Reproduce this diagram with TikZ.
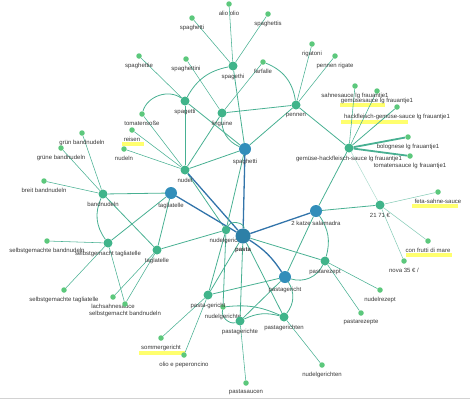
\documentclass[tikz,border=0pt]{standalone}
\usepackage{fontspec}
\setmainfont{Liberation Sans}
\usetikzlibrary{backgrounds}
\definecolor{hub}{RGB}{50,142,186}
\definecolor{mid}{RGB}{64,180,138}
\definecolor{leaf}{RGB}{92,200,124}
\definecolor{link}{RGB}{72,176,146}
\definecolor{hublink}{RGB}{50,116,170}
\definecolor{txt}{RGB}{55,55,55}
\definecolor{marker}{RGB}{255,255,110}

\begin{document}
\begin{tikzpicture}[x=1pt,y=-1pt,
  every label/.style={font=\fontsize{6}{7}\selectfont,text=txt,inner sep=1pt},
  label distance=2.6pt,
  big/.style={circle,fill=hub,inner sep=0pt,minimum size=12pt},
  med/.style={circle,fill=mid,inner sep=0pt,minimum size=9pt},
  sml/.style={circle,fill=leaf,inner sep=0pt,minimum size=5.5pt},
  ln/.style={link,line width=0.8pt},
  thn/.style={link,line width=0.55pt},
  hb/.style={hublink,line width=1.3pt}]
\useasboundingbox (0,0) rectangle (470,400);
\draw[gray!35,line width=1.5pt] (0,398.5)--(470,398.5);
% small ones
\node[sml,label=below:alio olio] (aliolio) at (229,4) {};
\node[sml,label=below:spaghetti] (spaghettit) at (192,18) {};
\node[sml,label=below:spaghettis] (spaghettis) at (268,14) {};
\node[sml,label=below:spaghettie] (spaghettie) at (139,56) {};
\node[sml,label=below:spaghettini] (spaghettini) at (186,59) {};
\node[sml,label=below:farfalle] (farfalle) at (263,62) {};
\node[sml,label=below:rigatoni] (rigatoni) at (312,44) {};
\node[sml,label=below:pennen rigate] (rigate) at (335,56) {};
\node[sml,label=below:tomatensoße] (tomsosse) at (142,114) {};
\node[sml,label=below:reisen] (reisen) at (132,130) {};
\node[sml,label=below:nudeln] (nudeln) at (124,149) {};
\node[sml,label=below:grün bandnudeln] (gruenbn) at (82,133) {};
\node[sml,label=below:grüne bandnudeln] (gruenebn) at (61,148) {};
\node[sml,label=below:breit bandnudeln] (breitbn) at (44,181) {};
\node[sml,label=below:selbstgemachte bandnudeln] (sgebn) at (47,241) {};
\node[sml,label=below:selbstgemachte tagliatelle] (sgetag) at (64,290) {};
\node[sml,label=below:lachsahnesauce] (lachs) at (113,297) {};
\node[sml,label=below:selbstgemacht bandnudeln] (sgbn) at (125,304) {};
\node[sml,label=below:sommergericht] (sommer) at (161,338) {};
\node[sml,label=below:olio e peperoncino] (olio) at (184,355) {};
\node[sml,label=below:pastasaucen] (saucen) at (246,383) {};
\node[sml,label=below:nudelgerichten] (ngerichten) at (322,365) {};
\node[sml,label=below:pastarezepte] (rezepte) at (361,313) {};
\node[sml,label=below:nudelrezept] (nrezept) at (380,290) {};
\node[sml,label=below:nova 35 € /] (nova) at (404,261) {};
\node[sml,label=below:con frutti di mare] (frutti) at (428,241) {};
\node[sml,label=below:feta-sahne-sauce] (feta) at (438,192) {};
\node[sml,label=below:tomatensauce lg frauantje1] (tomsauce) at (410,156) {};
\node[sml,label=below:bolognese lg frauantje1] (bolo) at (408,137) {};
\node[sml,label=below:hackfleisch-gemüse-sauce lg frauantje1] (hackgem) at (397,107) {};
\node[sml,label=below:gemüsesauce lg frauantje1] (gemsauce) at (377,91) {};
\node[sml,label=below:sahnesauce lg frauantje1] (sahne) at (355,86) {};
\node[sml,minimum size=5.5pt,label=below:nudelgerichte] (ngerichte) at (223,307) {};
% middle ones
\node[med,label=below:spagethi] (spagethi) at (233,66) {};
\node[med,label=below:spagetti] (spagetti) at (185,101) {};
\node[med,label=below:linguine] (linguine) at (222,113) {};
\node[med,label=below:pennen] (pennen) at (296,105) {};
\node[med,label=below:gemüse-hackfleisch-sauce lg frauantje1] (gemhack) at (349,148) {};
\node[med,label=below:nudel] (nudel) at (185,170) {};
\node[med,label=below:bandnudeln] (bandnudeln) at (103,194) {};
\node[med,label=below:selbstgemacht tagliatelle] (sgtag) at (108,243) {};
\node[med,label=below:taglatelle] (taglatelle) at (157,250) {};
\node[med,minimum size=8.5pt,label=below:nudelgericht] (ngericht) at (226,230) {};
\node[med,label=below:21 71 €] (euro) at (380,205) {};
\node[med,label=below:pastarezept] (rezept) at (325,261) {};
\node[med,label=below:pasta-gericht] (pgericht) at (208,295) {};
\node[med,label=below:pastagerichte] (gerichte) at (240,321) {};
\node[med,label=below:pastagerichten] (gerichten) at (284,317) {};
% big ones
\node[big,label=below:spaghetti] (spaghetti) at (245,149) {};
\node[big,label=below:tagliatelle] (tagliatelle) at (171,193) {};
\node[big,label=below:2 katze salamadra] (katze) at (316,211) {};
\node[big,label=below:pastagericht] (gericht) at (285,277) {};
\node[big,fill=hub!90!black,minimum size=15pt,
  label={[font=\fontsize{6}{7}\selectfont\bfseries]below:pasta}] (pasta) at (243,236) {};
\begin{scope}[on background layer]
\fill[marker] (340,103)--(385,103)--(385,107)--(340,107)--cycle;
\fill[marker] (341,119.5)--(408,119.5)--(408,124)--(341,124)--cycle;
\fill[marker] (122,142)--(144,142)--(144,146)--(122,146)--cycle;
\fill[marker] (412,203.5)--(458,203.5)--(458,208)--(412,208)--cycle;
\fill[marker] (406,252.5)--(452,252.5)--(452,257)--(406,257)--cycle;
\fill[marker] (139,351)--(185,351)--(185,355)--(139,355)--cycle;
\draw[thn] (spagethi)--(aliolio); \draw[thn] (spagethi)--(spaghettit);
\draw[thn] (spagethi)--(spaghettis); \draw[ln] (spagethi)--(spaghetti);
\draw[ln] (spagetti) to[bend left=25] (spagethi);
\draw[thn] (spagetti)--(spaghettie); \draw[ln] (spagetti) to[bend right=55] (tomsosse);
\draw[ln] (spagetti)--(nudel); \draw[ln] (spagetti)--(spaghetti);
\draw[thn] (linguine)--(spaghettini); \draw[thn] (linguine)--(farfalle);
\draw[ln] (linguine)--(pennen); \draw[ln] (linguine)--(nudel);
\draw[ln] (linguine) to[bend right=35] (spaghetti);
\draw[ln] (farfalle) to[bend left=30] (pennen);
\draw[thn] (pennen)--(rigatoni); \draw[thn] (pennen)--(rigate);
\draw[ln] (pennen)--(spaghetti); \draw[ln] (pennen)--(gemhack);
\draw[thn] (gemhack)--(sahne); \draw[thn] (gemhack)--(gemsauce);
\draw[ln] (gemhack)--(hackgem);
\draw[link,line width=1.8pt] (gemhack)--(bolo); \draw[link,line width=1.8pt] (gemhack)--(tomsauce);
\draw[link!45,line width=0.5pt] (gemhack)--(euro); \draw[ln] (gemhack)--(katze);
\draw[thn] (nudel)--(tomsosse); \draw[thn] (nudel)--(reisen);
\draw[thn] (nudel)--(nudeln); \draw[ln] (nudel)--(spaghetti);
\draw[ln] (nudel)--(ngericht); \draw[hb] (nudel)--(pasta);
\draw[thn] (bandnudeln)--(gruenbn); \draw[thn] (bandnudeln)--(gruenebn);
\draw[thn] (bandnudeln)--(breitbn); \draw[ln] (bandnudeln)--(tagliatelle);
\draw[ln] (bandnudeln)--(taglatelle); \draw[ln] (bandnudeln) to[bend right=30] (sgtag);
\draw[ln] (tagliatelle)--(sgtag); \draw[ln] (tagliatelle)--(taglatelle);
\draw[hb] (tagliatelle)--(pasta);
\draw[thn] (sgtag)--(sgebn); \draw[thn] (sgtag)--(sgetag);
\draw[thn] (sgtag)--(sgbn);
\draw[thn] (taglatelle)--(lachs); \draw[thn] (taglatelle)--(sgbn);
\draw[ln] (taglatelle)--(ngericht);
\draw[hb] (spaghetti)--(pasta); \draw[ln] (spaghetti)--(ngericht);
\draw[ln] (ngericht) to[bend left=80] (pasta);
\draw[ln] (ngericht)--(pgericht); \draw[ln] (ngericht)--(ngerichte);
\draw[hb] (pasta)--(katze); \draw[hb] (pasta) to[bend left=12] (gericht);
\draw[ln] (pasta)--(rezept); \draw[ln] (pasta)--(pgericht);
\draw[ln] (pasta)--(gerichte); \draw[ln] (pasta)--(gerichten);
\draw[ln] (katze)--(euro); \draw[ln] (katze)--(gericht);
\draw[ln] (katze) to[bend left=25] (rezept);
\draw[link!70,line width=0.5pt] (euro)--(feta); \draw[link!70,line width=0.5pt] (euro)--(frutti);
\draw[link!70,line width=0.5pt] (euro)--(nova);
\draw[thn] (rezept)--(nrezept); \draw[thn] (rezept)--(rezepte);
\draw[ln] (gericht)--(pgericht); \draw[ln] (gericht)--(gerichte);
\draw[ln] (gericht) to[bend left=35] (gerichten);
\draw[ln] (gericht) to[bend right=40] (rezept);
\draw[ln] (gerichte) to[bend left=20] (gerichten);
\draw[ln] (ngerichte) to[bend left=15] (gerichten);
\draw[ln] (ngerichte) to[bend right=60] (gerichte);
\draw[thn] (pgericht)--(sommer); \draw[thn] (pgericht)--(olio);
\draw[thn] (gerichte)--(saucen); \draw[thn] (gerichten)--(ngerichten);
\end{scope}
\end{tikzpicture}
\end{document}
